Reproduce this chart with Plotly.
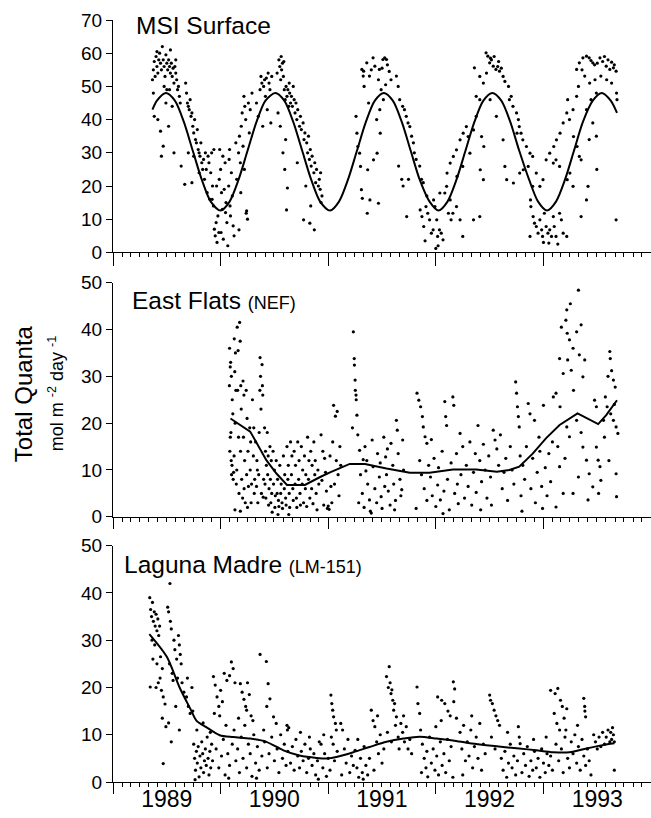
import pandas as pd
import plotly.graph_objects as go

# x values are months since 1 Jan 1989; y values in mol m-2 day-1
msi_points = [
    (4.4,52),(4.5,55),(4.6,57.5),(4.7,53),(4.8,59),(4.9,56),(5.0,54),(5.1,58),(5.2,60),(5.3,57),(5.4,55),(5.5,62),
    (5.6,58),(5.7,56),(5.8,53),(5.9,59.5),(6.0,57),(6.1,55),(6.2,58),(6.3,56),(6.4,54),(6.5,57),(6.6,53),(6.7,55.5),
    (6.8,51),(6.9,56),(7.0,54),(7.1,52),(7.2,49),(7.3,50),(7.4,47),(4.6,41),(5.0,40),(5.3,36.5),(5.4,29),(5.6,32),
    (6.0,49),(6.3,49),(6.8,30),(6.2,38),(7.6,26),(8.0,20.5),(5.9,45),(6.6,44),(7.5,45),(4.5,48),(5.7,50),(6.4,61),
    (7.0,58),(4.9,60.5),
    (8.1,51),(8.2,48),(8.3,45),(8.4,44),(8.5,43),(8.6,46),(8.7,41),(8.8,42),(8.9,38),(9.0,36),(9.1,40),(9.2,34),
    (9.3,33),(9.4,37),(9.5,31),(9.6,30),(9.7,29),(9.8,33),(9.9,27),(10.0,25),(8.4,30),(8.8,21),(9.0,29),(9.6,24),
    (10.1,28),(10.2,22),(10.3,30),(10.4,25),(10.5,18),(10.6,29),(10.7,27),(10.8,16),(10.9,24),(11.0,30),(11.1,20),
    (11.2,14),(11.3,7),(11.4,5),(11.5,9),(11.6,3),(11.7,11),(11.8,6),(11.9,31),(12.0,25),(12.1,18),(12.2,13),(12.3,4),
    (12.4,19),(12.5,27),(12.6,15),(12.7,9),(12.8,2),(12.9,20),(13.0,31),(13.1,11),(13.2,24),(13.3,17),(13.4,8),
    (13.5,5),(11.05,16),(11.55,20),(12.05,6),(12.55,12),(13.05,14),(13.7,33),(13.8,22),(11.25,31),(12.25,29),
    (12.95,28),(11.85,22),
    (14.0,30),(14.1,35),(14.2,27),(14.3,38),(14.4,42),(14.5,32),(14.6,47),(14.7,44),(14.8,40),(14.9,12.5),(15.0,10),
    (15.1,45),(15.2,36),(14.25,18),(14.65,25),(15.3,43),(14.05,6.8),(14.85,11.8),(15.5,48),
    (16.0,45),(16.2,41),(16.4,49),(16.5,53),(16.6,51),(16.8,50),(16.9,52),(17.0,47),(17.1,52.5),(17.3,54),(17.5,49),
    (17.6,39),(16.7,38),(17.2,43),(17.4,51),(17.7,53),
    (18.3,54),(18.5,58),(18.6,56),(18.7,52),(18.8,55),(18.9,57),(19.0,53),(19.1,49),(19.2,46),(19.3,50),(19.4,47),
    (19.5,49),(19.6,44),(19.7,48),(19.8,45),(19.9,47),(18.65,38),(18.95,30),(19.15,25),(19.45,19.4),(18.4,42),
    (19.35,12.8),(19.25,34),(18.75,59),(19.05,57.5),(19.65,51),(20.1,50),
    (20.0,44),(20.2,46),(20.3,42),(20.4,45),(20.5,40),(20.6,43),(20.8,38),(20.9,41),(21.0,37),(21.2,39),(21.3,34),
    (21.4,36),(21.6,33),(21.7,30),(21.8,35),(21.9,28),(22.0,31),(22.1,26),(22.2,29),(22.4,24),(22.5,27),(22.6,21),
    (22.7,25),(20.55,27),(21.25,9.8),(21.95,8.8),(22.45,6.8),(21.5,20),(22.05,14),
    (23.0,22),(23.1,19),(23.2,15),(23.15,24),(23.3,17),(22.9,20),
    (27.1,41),(27.2,35.9),(27.3,31.9),(27.5,29.9),(27.6,25.9),(27.7,18.9),(27.8,16.3),(27.75,55.1),(27.9,53.1),
    (27.95,54.6),(28.3,57.1),(28.6,53.1),(29.0,58.6),(29.2,56.1),(29.7,55.1),(30.1,58.1),(30.3,58.6),(30.5,58.1),
    (29.6,52),(29.9,49),(30.15,46),(29.75,43),(29.4,40),(29.8,35.9),(29.05,27.9),(28.65,15.8),(29.6,14.8),
    (28.35,11.8),(28.4,24.9),(29.45,29.9),(30.0,55.5),(30.6,56.5),(30.8,54.5),(28.8,55),(28.0,50),(28.5,45),
    (30.4,50.5),(31.0,52),
    (31.6,53.1),(31.8,50),(31.97,46),(32.3,44),(32.5,43),(32.7,41),(32.9,39),(33.1,37.9),(33.3,35),(33.5,33),
    (33.6,30),(33.8,28),(34.2,26),(34.4,22),(34.6,21),(31.85,26),(32.2,22),(32.35,20),(32.75,10.8),(32.95,22),
    (34.25,12.8),(34.45,10.8),(34.65,7.8),(34.9,13.8),(35.1,11.8),(35.3,9.8),(35.5,5.8),(35.7,6.8),(35.9,13.8),
    (36.1,9.8),(36.2,4.8),(36.4,6.8),(36.6,5.8),(36.8,3.8),(37.0,17.9),(37.2,19.9),(36.45,17.9),(35.75,15.8),
    (37.4,11.8),(37.6,15.8),(37.7,9.8),(37.9,11.8),(38.3,13.8),(39.0,4.8),(38.7,9.8),(40.2,9.8),(40.9,10.8),
    (36.25,2.0),(35.0,17),(34.8,3.5),(36.0,1.2),
    (37.25,23.9),(37.6,26.9),(37.95,28.9),(38.3,30.9),(38.7,33.9),(39.05,35.9),(39.4,37.9),(39.6,34.9),
    (39.8,29.9),(40.2,36.9),(40.5,41),(40.9,46),(38.35,22.9),(39.0,25.9),(40.95,24.9),(41.3,21.9),(41.35,31.9),
    (41.1,34.9),
    (40.3,55.6),(40.9,53),(41.3,51),(41.6,60.1),(41.8,59.1),(42.0,57.1),(42.4,56.1),(42.7,55.1),(43.1,54.6),
    (43.5,53),(43.7,51.5),(41.65,54),(40.5,47),(42.05,46),(42.75,41),(43.5,33.9),(43.7,25.9),(43.9,21.9),
    (42.2,58),(43.0,57.5),(42.1,58.5),(42.5,59),(42.9,56),(43.3,55.5),
    (44.1,50),(44.2,46),(44.4,47),(44.6,44),(45.0,42),(45.2,40),(45.3,37.9),(45.5,35.9),(45.7,33.9),(46.1,31.9),
    (46.5,29.9),(46.8,28.9),(45.05,35.9),(45.35,23.9),(44.65,20.9),(45.75,24.9),(46.3,25.9),
    (46.55,15.8),(46.6,13.8),(46.85,10.8),(47.0,8.8),(47.2,7.8),(47.4,5.8),(47.6,9.8),(47.8,6.8),(47.9,4.8),
    (48.1,11.8),(48.3,7.8),(48.5,5.8),(48.7,6.8),(48.9,4.8),(49.1,10.8),(49.2,7.8),(49.4,4.8),(49.8,11.8),
    (50.0,9.8),(50.2,5.8),(50.6,4.8),(46.5,4.8),(47.6,19.9),(47.95,21.9),(48.3,27.9),(48.7,29.9),(49.1,26.9),
    (49.4,27.9),(49.8,25.9),(47.2,23.9),(46.8,19.9),(48.0,3),(48.6,2.8),(49.6,2.5),
    (49.15,31.9),(49.45,33.9),(49.85,35.9),(50.2,39),(50.6,42),(50.7,46),(50.9,40),(51.3,43),(51.7,47),(51.9,50),
    (51.35,34.9),(51.75,31.9),(52.0,28.9),(50.95,23.9),(51.3,19.9),(50.65,21.9),(52.2,10.8),
    (51.7,55.1),(52.0,57.1),(52.4,58.6),(52.8,59.1),(53.1,58.6),(53.5,57.1),(53.7,56.5),(54.3,58.6),(54.6,57.5),
    (55.0,56.1),(55.4,55.1),(55.8,55.6),(56.1,54.6),(52.6,53.1),(53.15,51),(53.75,52),(54.4,53.1),(55.05,52),
    (55.6,51),(56.15,48),(56.2,46),(53.3,46),(53.9,48),(52.8,43),(53.5,39),(53.9,35),(53.1,34),(52.97,19.9),
    (53.95,25),(52.2,27.9),(52.8,15.8),(56.1,9.8),(54.0,57),(54.8,59),(55.2,58),(55.6,57.3),(55.9,56.5),
    (53.3,57.8),(52.3,55),
]
msi_line_months = [4.4, 4.9, 5.9, 6.9, 7.9, 8.9, 9.9, 10.9, 12.0, 13.0, 14.0, 15.0, 16.0, 17.0, 18.1, 19.1, 20.1,
                   21.1, 22.1, 23.1, 24.2, 25.2, 26.2, 27.2, 28.2, 29.2, 30.2, 31.2, 32.2, 33.2, 34.2, 35.3, 36.3,
                   37.3, 38.3, 39.3, 40.3, 41.3, 42.3, 43.3, 44.3, 45.3, 46.4, 47.4, 48.4, 49.4, 50.4, 51.4, 52.4,
                   53.5, 54.5, 55.5, 56.2]
msi_line_values = [43.0, 45.7, 48.0, 45.7, 39.3, 30.6, 21.9, 15.3, 12.6, 15.3, 21.9, 30.6, 39.3, 45.7, 48.0, 45.7,
                   39.3, 30.6, 21.9, 15.3, 12.6, 15.3, 21.9, 30.6, 39.3, 45.7, 48.0, 45.7, 39.3, 30.6, 21.9, 15.3,
                   12.6, 15.3, 21.9, 30.6, 39.3, 45.7, 48.0, 45.7, 39.3, 30.6, 21.9, 15.3, 12.6, 15.3, 21.9, 30.6,
                   39.3, 45.7, 48.0, 45.7, 42.0]

nef_points = [
    (13.0,36),(13.07,32),(12.98,28),(13.15,18),(13.03,14),(13.22,9),(13.12,33),(13.3,25),(13.08,17),(13.27,11),
    (13.4,8),(13.2,30),(13.36,22),(13.18,12),(13.45,9.5),(13.6,1.5),
    (13.52,38),(13.65,35),(13.58,31),(13.7,27),(13.62,20),(13.5,13),(13.75,7),
    (13.85,40.5),(13.95,35.5),(13.9,27),(14.0,17),(13.8,10),(14.05,5),(14.2,1.2),
    (14.12,41.5),(14.18,37.5),(14.25,28),(14.3,23),(14.22,14),(14.35,8),(14.45,4),
    (14.5,29),(14.6,26),(14.55,17),(14.68,12),(14.62,6),(14.75,3),
    (14.85,27),(14.95,21),(15.05,14),(14.9,9),(15.1,6.5),(15.0,2),
    (15.25,19),(15.35,16),(15.3,10),(15.45,7),(15.4,3),
    (15.55,25),(15.7,19),(15.65,13),(15.8,8),(15.75,5),
    (15.9,16),(16.05,12),(16.1,10),(16.0,6.5),(16.15,3),
    (16.4,34),(16.45,30),(16.38,27),(16.5,23),(16.3,18),(16.25,9),(16.55,5),
    (16.62,32.5),(16.66,28),(16.7,26),(16.8,8),(16.75,4.2),
    (16.9,19),(17.0,14),(17.1,11),(16.95,7),(17.05,4),
    (17.2,18),(17.3,13),(17.25,9),(17.4,6),(17.35,2.5),
    (17.5,15),(17.65,12),(17.55,8),(17.7,5),(17.6,3),(17.75,1),
    (17.85,14),(18.0,10),(17.9,7),(18.1,4.5),(18.05,2),
    (18.2,12),(18.35,8),(18.3,5),(18.45,3.5),(18.5,2.2),(18.4,0.5),
    (18.6,11),(18.75,7),(18.7,5),(18.85,3),(18.9,1.8),
    (19.0,13),(19.15,9),(19.1,6),(19.25,4),(19.3,2.5),
    (19.4,15),(19.55,11),(19.5,8),(19.65,5),(19.7,2),(19.6,0.5),
    (19.8,16),(19.95,13),(19.9,9),(20.05,6),(20.1,3.5),
    (20.2,14),(20.35,11),(20.3,7),(20.45,4),(20.5,2),
    (20.6,16),(20.75,12),(20.7,8),(20.85,5),(20.9,2.5),
    (21.0,15),(21.15,10),(21.1,7),(21.25,3),
    (21.35,13),(21.5,9),(21.45,6),(21.6,2.2),
    (21.7,17),(21.85,12),(21.8,8),(21.95,4),
    (22.05,14),(22.2,11),(22.15,6),(22.3,2.8),
    (22.4,16),(22.55,12),(22.5,9),(22.65,5),(22.75,1.5),(22.85,10),(22.95,7),
    (23.2,17.5),(23.4,14),(23.6,12.5),(23.3,7.8),(23.8,5.5),(23.5,2.5),(23.9,1.8),(24.0,2.3),(24.1,1.6),
    (23.7,9.5),(24.2,13),(24.3,6.5),
    (24.6,23.8),(24.8,21.5),(25.0,22.5),(24.5,16),(24.9,12),(25.1,9),(24.7,7),(25.2,4.5),(24.4,3),(25.3,15),
    (25.4,11),
    (26.8,39.5),(26.9,33.8),(26.92,32.4),(27.0,29.2),(27.02,27),(27.1,26),(27.12,25),(27.2,21.7),(26.7,19),
    (27.3,17.5),(27.5,14.2),(27.6,9),(27.8,5),(28.0,2),(28.1,15),(28.3,12),(28.4,7),(28.6,3.6),(28.7,1.2),
    (28.9,16.4),(29.0,10.7),(29.2,6),(29.4,3),(29.5,13.5),(29.7,8.5),(29.9,4.3),(30.0,1.8),(30.2,17),(30.4,12.8),
    (30.5,9),(30.7,5.5),(30.9,2.5),(31.0,15.7),(31.2,11),(31.3,7),(31.5,3.5),(31.6,20.6),(31.7,18.5),(31.8,13.5),
    (32.0,8),(32.1,4.5),(32.3,16.4),(32.4,10),(27.4,3),(28.8,0.8),(29.8,11.5),(30.6,14.5),(31.4,1.5),(30.3,6.5),
    (28.2,9.8),(27.9,12.2),(32.2,5.8),
    (33.9,26.4),(34.1,24.9),(34.3,23.5),(34.5,21.4),(34.6,19.2),(34.8,17.1),(35.0,15.7),(34.2,12),(34.4,9),
    (34.7,6),(35.0,3.5),(33.8,1.8),(35.2,11),
    (35.4,8.5),(35.6,4.5),(35.8,12.5),(36.0,2.2),(36.2,6.8),(36.3,10.5),(36.5,3.6),(36.7,14),(36.9,5.5),
    (37.0,24.6),(37.1,21.4),(37.2,19.5),(37.3,8),(37.5,1.5),(37.7,11.5),(37.9,25.6),(38.0,23.8),(38.1,5),
    (38.3,13.5),(38.5,2.8),(38.7,17.8),(38.8,9),(39.0,15),(39.2,4),(39.4,11),(39.6,6.5),(39.8,16),(40.0,2.5),
    (40.2,9.5),(40.4,13.5),(40.5,5.2),(35.5,16.5),(36.8,0.7),(38.4,7),
    (40.7,19.5),(40.9,12),(41.1,7.5),(41.3,15.5),(41.5,10),(41.7,4),(41.9,13),(42.1,8.5),(42.4,18.5),(42.6,16.4),
    (42.8,14.5),(43.0,11),(43.2,17.5),(43.4,6),(43.6,9.5),(43.8,12.5),(44.0,3.5),(44.3,15),(44.5,10),(44.7,7),
    (44.9,28.8),(45.0,26.4),(45.1,23.5),(45.2,21.4),(45.3,19.2),(45.4,13),(45.5,4.5),(41.0,1.5),(42.2,2.5),
    (45.7,11),(45.9,8),(46.1,15),(46.3,24.2),(46.5,22),(46.6,6),(46.8,12.5),(47.0,20.6),(47.1,3),(47.3,9.5),
    (47.5,17),(47.6,14),(47.8,6.5),(48.0,23.8),(48.2,10.5),(48.4,4.5),(48.6,13.5),(48.8,7.5),(49.0,16),
    (45.6,1.2),(47.9,1.8),
    (51.9,48.4),(50.6,44.2),(50.5,42),(50.65,39.2),(51.7,39.5),(50.9,37.8),(51.3,36),(52.0,34.6),(52.6,33.5),
    (49.8,33.8),(50.2,30.6),(50.7,33.5),(51.1,31.3),(49.1,25.6),(49.4,26.4),(51.35,27),(52.4,29.9),(49.85,23.5),
    (50.6,19.2),(50.9,17.1),(51.7,20.6),(52.4,14.9),(52.8,12.1),(53.1,9.2),(53.5,6.4),(52.97,3.6),(53.9,14.9),
    (54.1,12.1),(54.3,10.7),(54.4,7.8),(54.15,5),(51.9,8.5),(51.3,5),(49.8,10.7),(50.2,5),(49.4,2.1),(52.2,18),
    (53.7,24.9),(53.9,23.5),(50.0,40.5),(51.0,45.5),(52.2,41),(49.6,15),(50.4,12.5),
    (55.4,35.3),(55.45,33.8),(55.6,31.2),(55.8,29.2),(56.0,27.7),(54.9,25.6),(55.1,23.5),(55.5,22),(56.1,19.2),
    (55.8,20.6),(56.3,17.8),(54.7,20.6),(56.1,9.2),(56.15,4.3),(55.2,30),(55.9,24),(54.8,17),(55.3,12),
]
nef_line_months = [13.1, 15.3, 17.1, 18.2, 19.4, 21.4, 23.1, 24.2, 26.4, 28.1, 30.5, 33.1, 35.3, 37.9, 40.5,
                   42.8, 44.2, 45.3, 46.8, 48.3, 49.8, 51.8, 54.1, 55.0, 56.2]
nef_line_values = [21.0, 18.2, 12.1, 9.3, 6.8, 6.8, 8.5, 9.5, 11.3, 11.3, 10.3, 9.4, 9.4, 10.1, 10.1,
                   9.6, 10.0, 10.7, 13.5, 16.8, 19.6, 22.1, 19.8, 21.7, 24.9]

lm_points = [
    (4.1,39),(4.2,36.5),(4.3,35),(4.4,38),(4.5,34),(4.6,36),(4.7,33),(4.8,35.5),(4.9,32),(5.0,34.5),(5.1,31),
    (5.2,33),(4.35,30),(4.65,29),(4.15,20.1),(4.45,26),(4.9,25),(5.25,22),(5.4,19.4),(5.6,18),(5.5,13.5),
    (5.6,3.9),(5.05,21),(5.3,26.5),(5.8,16.5),(5.9,11.7),(4.8,20),(5.5,24),
    (6.1,37),(6.2,36),(6.4,34),(6.5,32.4),(6.3,25),(6.6,23),(6.7,21.5),(6.5,8.5),(6.35,42),(6.8,30),(6.9,28),
    (7.1,26),(7.3,31),(7.4,29),(7.5,27),(7.6,25),(7.2,22),(7.7,21),(7.9,19),(7.4,11),(7.0,16),(6.2,12.5),
    (8.2,18),(8.4,16),(8.6,14.5),(8.8,20),(8.9,15),(8.3,22),
    (9.0,8),(9.1,5),(9.2,2.5),(9.3,6.5),(9.4,4),(9.5,7.5),(9.6,1.1),(9.7,5.5),(9.8,3),(9.9,8.5),(10.0,6),
    (10.1,2),(10.2,4.5),(10.3,7),(10.4,3.5),(10.5,9.5),(10.6,5),(10.7,1.5),(10.8,6.5),(10.9,3),(11.0,8),
    (11.1,4.5),(9.35,11),(10.05,12.5),(10.85,10.5),(9.15,0.5),
    (11.2,22.3),(11.4,20.5),(11.6,18),(11.8,16),(11.9,14),(11.3,14.5),(12.0,19.4),(12.4,23),(12.7,21.5),
    (13.0,22.5),(13.2,25.4),(13.4,24),(13.6,21),(12.2,17),(12.6,12),
    (11.5,7),(11.8,3),(12.1,5.5),(12.3,9),(12.5,1.5),(12.8,6),(13.0,3.5),(13.3,8),(13.5,11),(13.7,4.5),(13.9,7),
    (14.1,2),(14.3,9.5),(14.5,5),(14.7,12),(14.9,3),(15.1,8),(15.3,6),(15.5,1.2),(15.7,10),(15.9,4),(16.1,7.5),
    (16.3,2.5),(12.9,0.8),(14.0,13.5),
    (14.2,20.8),(14.4,19),(14.6,17.5),(14.8,16),(14.9,15.2),(15.2,18.5),(15.4,14),(15.6,13),(15.0,21),
    (16.4,27),(17.1,25.5),(17.3,20.8),(17.5,17.6),(17.15,16),(17.9,13.8),(18.2,12.4),(16.8,11),
    (16.6,5.5),(16.9,8.5),(17.2,3),(17.4,6),(17.7,9.5),(18.0,4.5),(18.3,7),(18.5,2),(18.7,10),(18.9,5),(19.1,8),
    (19.3,3.5),(19.5,6.5),(19.6,11.5),(19.8,4),(20.0,7.5),(20.2,2.5),(20.4,9),(20.6,5.5),(20.8,3),(21.0,6.5),
    (21.2,4.5),(21.4,8),(21.6,2),(21.8,5),(22.0,7),(22.2,3.5),(22.4,6),(22.6,1.5),(22.8,4.5),(23.0,8.5),
    (19.4,12),(19.45,11),(20.9,10.5),(21.9,9.5),(16.0,0.8),(22.9,0.6),
    (23.2,8),(23.4,3),(23.6,6),(23.8,1.2),(24.0,5),(24.2,2.5),(23.5,10),
    (24.3,18.4),(24.4,16.6),(24.5,15.2),(24.6,13.8),(24.8,12.4),(24.9,11),(24.55,8),(24.7,4.5),(25.0,6.5),
    (24.35,9.5),
    (25.4,12.4),(25.6,11),(25.8,7),(26.0,4),(26.2,9),(26.4,2),(26.6,5.5),(25.5,1.5),(26.8,3.5),
    (27.0,6.7),(27.2,3),(27.4,1),(27.6,5),(27.8,2),(28.0,7.5),(28.2,3.5),(28.4,1.5),(28.6,5),(27.3,9),(27.9,0.6),
    (28.8,15.2),(29.0,13),(29.2,11.7),(29.4,8.5),(29.6,6),(29.8,10),(30.0,4),(30.2,7),(29.1,2.5),(29.5,14),
    (30.5,22.3),(30.8,24.4),(30.9,21),(30.7,20),(31.0,18.7),(31.1,19.5),(31.2,17.3),(31.4,16.6),(31.3,15.2),
    (31.6,13.8),(30.6,10.5),(31.05,8.5),(31.5,12),(31.8,9.5),(31.9,7),
    (32.1,12.4),(32.3,10.5),(32.5,8.5),(32.7,11.7),(32.9,7),(33.1,9),(33.3,6),(32.4,14),
    (33.9,20.1),(34.0,16.6),(34.2,14.5),(34.3,11),(34.5,8),(34.7,5),(34.9,3),(35.1,1.1),(34.4,2),(35.0,6.5),
    (35.3,9.5),
    (35.5,4),(35.7,7),(35.9,2.5),(36.1,5.5),(36.3,1.5),(36.5,8.5),(36.7,3.5),(36.9,6),(37.1,2),(37.3,9),
    (37.5,4.5),(37.7,7.5),(37.9,1),(36.0,11.7),(36.6,13),
    (36.2,18),(36.65,17.3),(37.0,16.6),(37.35,15),(37.6,14),(37.95,21.2),(38.1,19.7),(38.3,13.5),(38.0,17),
    (38.7,10.5),(38.9,7),(39.1,12),(39.3,4.5),(39.5,8.5),(39.7,5.5),(39.9,11),(40.1,3),(40.3,7.5),(40.5,9.5),
    (40.7,5),(40.9,12.4),(41.1,2.5),(41.3,8),(41.5,6),(39.0,1.5),(40.0,14),
    (42.0,18.4),(42.1,17.3),(42.3,16.6),(42.5,15.2),(42.7,14),(42.9,13),(43.1,12),(42.2,9.5),(42.6,7),
    (43.3,5),(43.5,2.5),(43.7,6.5),(43.9,1),(44.1,4),(44.3,8),(44.5,3),(44.7,5.5),(44.9,1.5),(45.1,4.5),
    (45.2,11.7),(45.3,9.5),(45.4,8.1),(45.6,2),(45.8,6),(46.0,3.5),(46.2,7.5),(46.4,1.2),(46.6,4.5),(46.8,2.5),
    (47.0,6.5),(47.2,3),(47.4,5),(47.6,1),(47.8,7),(48.0,4),(48.2,2),(48.4,6),(48.6,3.5),(48.8,5.5),(49.0,2.5),
    (44.0,10.5),(46.9,9),(48.3,9.5),
    (48.8,19.4),(49.3,18.7),(49.6,19.8),(49.9,17.3),(50.1,16),(49.2,14.5),(50.3,13.5),(49.5,12.4),(50.6,15.5),
    (49.8,11),
    (49.4,8),(49.7,4.5),(50.0,7),(50.2,2),(50.4,9.5),(50.7,5),(50.9,3),(51.1,8.5),(51.3,6),(51.5,10),(51.7,4),
    (51.9,7.5),(52.1,2.5),(52.3,9),(52.5,5.5),(52.7,3.5),(52.9,7),(53.1,4.5),(53.3,1.5),(51.8,12),(50.5,11),
    (52.5,17.7),(52.6,16),(52.62,15),(52.7,13.8),
    (53.6,10),(53.8,8.5),(54.0,7),(54.2,9.5),(54.4,7.5),(54.6,10.5),(54.8,8),(55.0,9.5),(55.2,11),(55.4,8.5),
    (55.5,10.5),(55.6,9),(55.7,11.5),(55.8,10),(55.9,8.5),(55.9,2.5),
]
lm_line_months = [4.05, 6.0, 7.4, 8.7, 9.3, 10.4, 11.9, 13.4, 15.3, 17.1, 19.0, 20.8, 22.7, 24.0, 24.9, 26.8,
                  28.6, 30.5, 32.4, 34.2, 36.1, 37.9, 39.8, 41.6, 43.5, 45.3, 47.2, 49.1, 50.9, 52.8, 54.6, 55.9]
lm_line_values = [31.3, 26.5, 20.1, 15.2, 13.0, 11.6, 9.9, 9.5, 9.2, 8.5, 6.7, 5.6, 5.1, 5.0, 5.3, 6.3,
                  7.4, 8.5, 9.2, 9.6, 9.2, 8.8, 8.2, 7.8, 7.4, 7.1, 6.7, 6.3, 6.3, 7.1, 7.8, 8.2]

panel_titles = ["MSI Surface", "East Flats <span style='font-size:18px'>(NEF)</span>",
                "Laguna Madre <span style='font-size:18px'>(LM-151)</span>"]
y_ranges = [[0, 70], [0, 50], [0, 50]]
x_range = ["1989-01-01", "1994-01-01"]

START = pd.Timestamp("1989-01-01")


def to_dates(months):
    return [START + pd.Timedelta(days=m * 30.4375) for m in months]


FONT = "Liberation Sans, Arial, Helvetica, sans-serif"
fig = go.Figure()

panels = [
    (msi_points, msi_line_months, msi_line_values, "spline"),
    (nef_points, nef_line_months, nef_line_values, "linear"),
    (lm_points, lm_line_months, lm_line_values, "spline"),
]
for i, (pts, lm_, lv_, shape) in enumerate(panels):
    sfx = "" if i == 0 else str(i + 1)
    px_, py_ = zip(*pts)
    fig.add_trace(go.Scatter(x=to_dates(px_), y=list(py_), mode="markers",
                             marker=dict(color="black", size=3.2),
                             xaxis="x" + sfx, yaxis="y" + sfx, showlegend=False))
    fig.add_trace(go.Scatter(x=to_dates(lm_), y=lv_, mode="lines",
                             line=dict(color="black", width=2, shape=shape, smoothing=0.8),
                             xaxis="x" + sfx, yaxis="y" + sfx, showlegend=False))

domains = [[0.695, 1.0], [0.348, 0.6553], [0.0, 0.3101]]
layout = dict(
    width=651, height=818,
    margin=dict(l=113, r=0, t=20, b=36),
    paper_bgcolor="white", plot_bgcolor="white",
    font=dict(family=FONT, color="black", size=19),
    showlegend=False,
)
for i in range(3):
    sfx = "" if i == 0 else str(i + 1)
    layout["xaxis" + sfx] = dict(
        type="date", range=x_range, domain=[0, 1], anchor="y" + sfx,
        dtick="M12", tick0="1989-01-01", ticks="outside", ticklen=13 if i == 0 else 11,
        tickwidth=1, tickcolor="black", showline=True, linecolor="black", linewidth=1,
        showgrid=False, zeroline=False, ticklabelmode="period", tickformat="%Y",
        showticklabels=(i == 2), tickfont=dict(size=23, family=FONT),
        ticklabelstandoff=-15,
        minor=dict(dtick="M1", ticks="outside", ticklen=4, tickcolor="black", tickwidth=1, showgrid=False),
    )
    layout["yaxis" + sfx] = dict(
        range=y_ranges[i], domain=domains[i], anchor="x" + sfx, dtick=10,
        ticks="outside", ticklen=6, tickwidth=1, tickcolor="black",
        showline=True, linecolor="black", linewidth=1, showgrid=False, zeroline=False,
        tickfont=dict(size=19, family=FONT),
    )
fig.update_layout(**layout)

title_pos = [(0.0385, 0.978), (0.031, 0.924), (0.0167, 0.919)]
for i, t in enumerate(panel_titles):
    sfx = "" if i == 0 else str(i + 1)
    fig.add_annotation(text=t, xref="x" + sfx + " domain", yref="y" + sfx + " domain",
                       x=title_pos[i][0], y=title_pos[i][1], xanchor="left", yanchor="middle",
                       showarrow=False, font=dict(size=24.5, family=FONT, color="black"))

fig.add_annotation(text="Total Quanta", xref="paper", yref="paper", x=0, y=0.509, xshift=-90,
                   textangle=-90, showarrow=False, xanchor="center", yanchor="middle",
                   font=dict(size=24, family=FONT, color="black"))
fig.add_annotation(text="mol m <sup>-2</sup> day <sup>-1</sup>", xref="paper", yref="paper", x=0, y=0.509,
                   xshift=-57, textangle=-90, showarrow=False, xanchor="center", yanchor="middle",
                   font=dict(size=18, family=FONT, color="black"))

fig.write_html("out.html", config={"displayModeBar": False},
               post_script="document.body.style.margin='0';")
